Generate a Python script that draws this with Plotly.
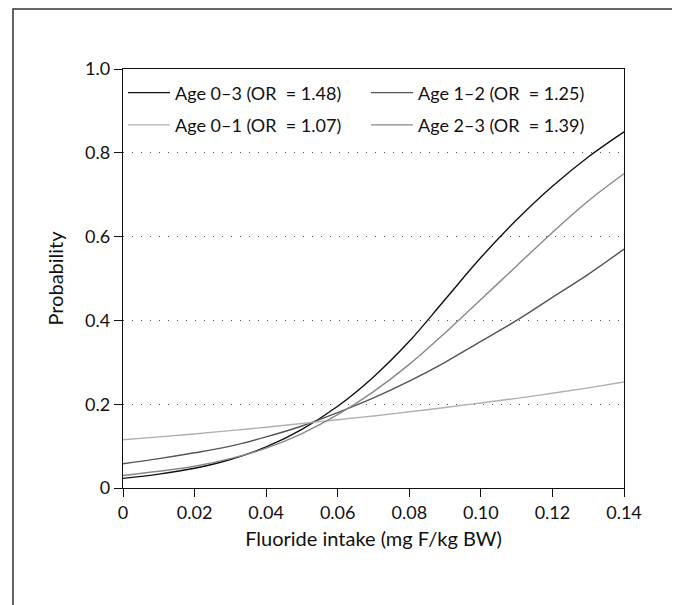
import plotly.graph_objects as go

# fluoride intake (mg F/kg BW)
intake = [0, 0.01, 0.02, 0.03, 0.04, 0.05, 0.06, 0.07, 0.08, 0.09, 0.10, 0.11, 0.12, 0.13, 0.14]

# probabilities
age_0_3 = [0.023, 0.033, 0.047, 0.068, 0.098, 0.14, 0.195, 0.265, 0.35, 0.45, 0.55, 0.64, 0.72, 0.79, 0.85]
age_1_2 = [0.058, 0.07, 0.084, 0.10, 0.122, 0.148, 0.18, 0.215, 0.255, 0.30, 0.35, 0.40, 0.455, 0.51, 0.57]
age_0_1 = [0.115, 0.122, 0.129, 0.137, 0.145, 0.154, 0.163, 0.172, 0.182, 0.192, 0.203, 0.214, 0.226, 0.239, 0.253]
age_2_3 = [0.03, 0.04, 0.052, 0.07, 0.095, 0.13, 0.175, 0.23, 0.295, 0.37, 0.45, 0.53, 0.61, 0.685, 0.75]

series = [
    ("Age 0\u20133 (OR \u00a0= 1.48)", age_0_3, "#111111", "legend"),
    ("Age 1\u20132 (OR \u00a0= 1.25)", age_1_2, "#555555", "legend"),
    ("Age 0\u20131 (OR \u00a0= 1.07)", age_0_1, "#b0b0b0", "legend2"),
    ("Age 2\u20133 (OR \u00a0= 1.39)", age_2_3, "#888888", "legend2"),
]

x_ticks = [0, 0.02, 0.04, 0.06, 0.08, 0.10, 0.12, 0.14]
x_labels = ["0", "0.02", "0.04", "0.06", "0.08", "0.10", "0.12", "0.14"]
y_ticks = [0, 0.2, 0.4, 0.6, 0.8, 1.0]
y_labels = ["0", "0.2", "0.4", "0.6", "0.8", "1.0"]

font = "Lato, 'Open Sans', sans-serif"
title_font = dict(family=font, size=20, color="#111")

fig = go.Figure()
for name, vals, col, leg in series:
    fig.add_trace(go.Scatter(x=intake, y=vals, mode="lines", name=name,
                             line=dict(color=col, width=1.4, shape="spline"),
                             legend=leg))

legend_style = dict(orientation="h", xanchor="left", yanchor="middle", x=0.0,
                    entrywidth=186, itemwidth=42, bgcolor="rgba(0,0,0,0)",
                    font=dict(family=font, size=18, color="#111"), traceorder="normal")

# page body adds 8px, so the figure is a bit smaller than the window
fig.update_layout(
    width=672, height=597,
    margin=dict(l=115, r=56, t=61, b=117),
    paper_bgcolor="white", plot_bgcolor="white",
    font=dict(family=font, size=18, color="#111"),
    showlegend=True,
    legend=dict(legend_style, y=0.943),
    legend2=dict(legend_style, y=0.866),
    xaxis=dict(range=[0, 0.14], tickvals=x_ticks, ticktext=x_labels,
               ticks="outside", ticklen=8, tickcolor="#111", showline=True,
               linecolor="#111", linewidth=1.3, mirror=True, showgrid=False,
               zeroline=False,
               title=dict(text="Fluoride intake (mg F/kg BW)", standoff=10,
                          font=title_font)),
    yaxis=dict(range=[0, 1.0], tickvals=y_ticks, ticktext=y_labels,
               ticks="outside", ticklen=8, tickcolor="#111", showline=True,
               linecolor="#111", linewidth=1.3, mirror=True, showgrid=True,
               gridcolor="#555", gridwidth=1.2, griddash="1px,8px",
               zeroline=False, title=dict(text="Probability", standoff=16,
                                          font=title_font)),
)

# outer frame around the whole figure
fig.add_shape(type="rect", xref="paper", yref="paper",
              x0=-0.2196, x1=1.0978, y0=-0.33, y1=1.1432,
              line=dict(color="#333", width=1.5), layer="below")

fig.write_html("out.html")
